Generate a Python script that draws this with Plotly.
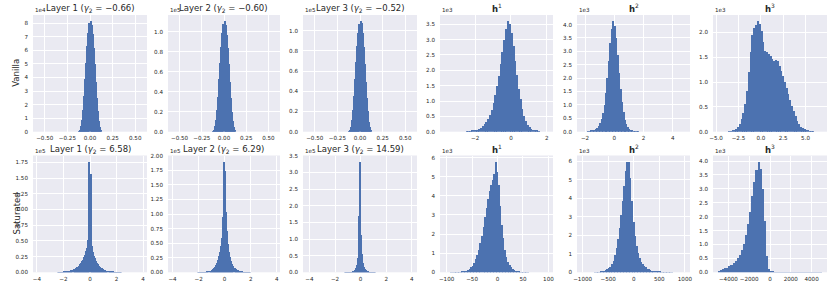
import plotly.graph_objects as go

W, H = 831, 287

# ---------------- data (bin start, bin width, counts in display units) ----------------
# Row 1: Vanilla
van_l1_start, van_l1_width = -0.126, 0.012
van_l1_counts = [0.05, 0.15, 0.4, 0.9, 1.6, 2.6, 3.9, 5.1, 6.3, 7.3, 8.0, 8.2, 7.9, 7.2, 6.2, 5.0,
                 3.7, 2.5, 1.5, 0.8, 0.35, 0.12]  # x1e4
van_l2_start, van_l2_width = -0.126, 0.012
van_l2_counts = [0.007, 0.02, 0.055, 0.12, 0.22, 0.35, 0.53, 0.69, 0.85, 0.99, 1.08, 1.11, 1.07, 0.97,
                 0.84, 0.68, 0.5, 0.34, 0.2, 0.11, 0.05, 0.016]  # x1e5
van_l3_start, van_l3_width = -0.126, 0.012
van_l3_counts = [0.006, 0.02, 0.05, 0.12, 0.21, 0.35, 0.52, 0.69, 0.85, 0.98, 1.07, 1.10, 1.08, 0.98,
                 0.84, 0.67, 0.49, 0.33, 0.2, 0.1, 0.045, 0.015]  # x1e5
van_h1_start, van_h1_width = -2.45, 0.1
van_h1_counts = [0.01, 0.015, 0.02, 0.03, 0.04, 0.05, 0.07, 0.09, 0.13, 0.18, 0.24, 0.32, 0.42, 0.55,
                 0.72, 0.93, 1.18, 1.48, 1.82, 2.2, 2.6, 3.0, 3.35, 3.62, 3.5, 3.2, 2.8, 2.3, 1.85,
                 1.4, 1.05, 0.75, 0.52, 0.35, 0.23, 0.15, 0.09, 0.06, 0.04, 0.025, 0.015]  # x1e3
van_h2_start, van_h2_width = -1.75, 0.1
van_h2_counts = [0.01, 0.02, 0.03, 0.05, 0.07, 0.1, 0.15, 0.22, 0.32, 0.48, 0.7, 1.0, 1.45, 2.0, 2.65,
                 3.3, 3.85, 4.15, 3.95, 3.5, 2.85, 2.2, 1.6, 1.1, 0.72, 0.45, 0.28, 0.17, 0.1, 0.06,
                 0.04, 0.025, 0.015, 0.01, 0.006]  # x1e3
van_h3_start, van_h3_width = -3.5, 0.2
van_h3_counts = [0.005, 0.01, 0.02, 0.04, 0.06, 0.1, 0.16, 0.25, 0.38, 0.56, 0.82, 1.2, 1.6, 1.95, 2.1,
                 2.15, 2.24, 2.18, 2.02, 1.8, 1.62, 1.6, 1.57, 1.52, 1.47, 1.42, 1.44, 1.42, 1.33,
                 1.22, 1.12, 1.0, 0.88, 0.76, 0.64, 0.52, 0.41, 0.31, 0.22, 0.15, 0.1, 0.07, 0.05,
                 0.03, 0.02, 0.012, 0.008, 0.005]  # x1e3

# Row 2: Saturated
sat_l1_start, sat_l1_width = -2.44, 0.08
sat_l1_counts = [0.005, 0.006, 0.007, 0.008, 0.01, 0.012, 0.014, 0.016, 0.019, 0.022, 0.026, 0.03,
                 0.035, 0.041, 0.048, 0.056, 0.065, 0.076, 0.088, 0.10, 0.115, 0.135, 0.155, 0.18,
                 0.21, 0.25, 0.29, 0.34, 0.40, 0.52, 1.77, 1.57, 0.42, 0.33, 0.27, 0.23, 0.19, 0.16,
                 0.135, 0.115, 0.097, 0.082, 0.07, 0.06, 0.05, 0.043, 0.036, 0.031, 0.026, 0.022,
                 0.019, 0.016, 0.014, 0.012, 0.01, 0.008, 0.007, 0.006, 0.005, 0.004, 0.003]  # x1e5
sat_l2_start, sat_l2_width = -2.04, 0.08
sat_l2_counts = [0.002, 0.003, 0.003, 0.004, 0.005, 0.006, 0.008, 0.01, 0.013, 0.017, 0.022, 0.028,
                 0.036, 0.046, 0.06, 0.078, 0.1, 0.13, 0.17, 0.22, 0.28, 0.36, 0.46, 0.6, 0.95, 1.91,
                 1.75, 1.05, 0.72, 0.5, 0.36, 0.27, 0.2, 0.15, 0.115, 0.088, 0.068, 0.052, 0.04,
                 0.031, 0.024, 0.018, 0.014, 0.011, 0.008, 0.006, 0.005, 0.004, 0.003, 0.002, 0.002]  # x1e5
sat_l3_start, sat_l3_width = -1.24, 0.08
sat_l3_counts = [0.002, 0.003, 0.004, 0.005, 0.007, 0.01, 0.014, 0.02, 0.03, 0.05, 0.08, 0.13, 0.22,
                 0.45, 1.7, 3.34, 1.15, 0.55, 0.3, 0.18, 0.11, 0.07, 0.045, 0.03, 0.02, 0.014, 0.01,
                 0.007, 0.005, 0.003, 0.002]  # x1e5
sat_h1_start, sat_h1_width = -90, 3
sat_h1_counts = [0.01, 0.012, 0.015, 0.02, 0.025, 0.03, 0.04, 0.05, 0.065, 0.085, 0.11, 0.15, 0.2,
                 0.28, 0.38, 0.52, 0.7, 0.92, 1.2, 1.55, 1.95, 2.4, 2.9, 3.4, 3.85, 4.3, 4.6, 4.85,
                 5.15, 5.82, 5.3, 4.6, 3.5, 2.5, 1.8, 1.2, 0.82, 0.58, 0.4, 0.28, 0.19, 0.13, 0.09,
                 0.065, 0.045, 0.032, 0.022, 0.015, 0.01, 0.007, 0.005]  # x1e3
sat_h2_start, sat_h2_width = -750, 30
sat_h2_counts = [0.015, 0.02, 0.025, 0.042, 0.055, 0.075, 0.1, 0.13, 0.18, 0.26, 0.34, 0.46, 0.65,
                 0.95, 1.35, 1.8, 2.4, 3.1, 3.9, 4.7, 5.5, 5.95, 6.0, 5.1, 3.9, 2.75, 2.0, 1.45, 1.05,
                 0.78, 0.6, 0.46, 0.36, 0.29, 0.23, 0.19, 0.15, 0.12, 0.1, 0.085, 0.07, 0.06, 0.05,
                 0.042, 0.035, 0.03, 0.025, 0.02, 0.017, 0.014, 0.012]  # x1e3
sat_h3_start, sat_h3_width = -4900, 200
sat_h3_counts = [0.08, 0.1, 0.13, 0.16, 0.19, 0.23, 0.28, 0.34, 0.42, 0.52, 0.65, 0.82, 1.05, 1.35,
                 1.75, 2.2, 2.75, 3.25, 3.7, 4.0, 3.75, 3.0, 1.85, 0.6, 0.12, 0.04, 0.03, 0.025,
                 0.022, 0.02, 0.018, 0.016, 0.015, 0.014, 0.013, 0.012, 0.011, 0.01, 0.01, 0.009,
                 0.008, 0.008, 0.007, 0.007, 0.006, 0.006, 0.005, 0.005, 0.004, 0.004]  # x1e3

# titles / labels
titles = ["Layer 1 (<i>γ</i><sub>2</sub> = −0.66)", "Layer 2 (<i>γ</i><sub>2</sub> = −0.60)",
          "Layer 3 (<i>γ</i><sub>2</sub> = −0.52)", "<b>h</b><sup>1</sup>", "<b>h</b><sup>2</sup>",
          "<b>h</b><sup>3</sup>",
          "Layer 1 (<i>γ</i><sub>2</sub> = 6.58)", "Layer 2 (<i>γ</i><sub>2</sub> = 6.29)",
          "Layer 3 (<i>γ</i><sub>2</sub> = 14.59)", "<b>h</b><sup>1</sup>", "<b>h</b><sup>2</sup>",
          "<b>h</b><sup>3</sup>"]
row_labels = ["Vanilla", "Saturated"]
offset_texts = ["1e4", "1e5", "1e5", "1e3", "1e3", "1e3", "1e5", "1e5", "1e5", "1e3", "1e3", "1e3"]

tick_layer_van = [-0.5, -0.25, 0.0, 0.25, 0.5]
tick_layer_van_text = ["−0.50", "−0.25", "0.00", "0.25", "0.50"]
tick_van_h1 = [-2, 0, 2]
tick_van_h1_text = ["−2", "0", "2"]
tick_van_h2 = [-2, 0, 2, 4]
tick_van_h2_text = ["−2", "0", "2", "4"]
tick_van_h3 = [-5.0, -2.5, 0.0, 2.5, 5.0]
tick_van_h3_text = ["−5.0", "−2.5", "0.0", "2.5", "5.0"]
tick_layer_sat = [-4, -2, 0, 2, 4]
tick_layer_sat_text = ["−4", "−2", "0", "2", "4"]
tick_sat_h1 = [-100, -50, 0, 50, 100]
tick_sat_h1_text = ["−100", "−50", "0", "50", "100"]
tick_sat_h2 = [-1000, -500, 0, 500, 1000]
tick_sat_h2_text = ["−1000", "−500", "0", "500", "1000"]
tick_sat_h3 = [-4000, -2000, 0, 2000, 4000]
tick_sat_h3_text = ["−4000", "−2000", "0", "2000", "4000"]

# ---------------- figure ----------------
panels = [
    (van_l1_start, van_l1_width, van_l1_counts, [-0.63, 0.63], tick_layer_van, tick_layer_van_text, 1, "d"),
    (van_l2_start, van_l2_width, van_l2_counts, [-0.63, 0.63], tick_layer_van, tick_layer_van_text, 0.2, ".1f"),
    (van_l3_start, van_l3_width, van_l3_counts, [-0.63, 0.63], tick_layer_van, tick_layer_van_text, 0.2, ".1f"),
    (van_h1_start, van_h1_width, van_h1_counts, [-3.96, 2.35], tick_van_h1, tick_van_h1_text, 0.5, ".1f"),
    (van_h2_start, van_h2_width, van_h2_counts, [-2.55, 5.18], tick_van_h2, tick_van_h2_text, 0.5, ".1f"),
    (van_h3_start, van_h3_width, van_h3_counts, [-5.35, 7.4], tick_van_h3, tick_van_h3_text, 0.5, ".1f"),
    (sat_l1_start, sat_l1_width, sat_l1_counts, [-4.3, 4.3], tick_layer_sat, tick_layer_sat_text, 0.25, ".2f"),
    (sat_l2_start, sat_l2_width, sat_l2_counts, [-4.35, 4.25], tick_layer_sat, tick_layer_sat_text, 0.25, ".2f"),
    (sat_l3_start, sat_l3_width, sat_l3_counts, [-4.5, 4.4], tick_layer_sat, tick_layer_sat_text, 0.5, ".1f"),
    (sat_h1_start, sat_h1_width, sat_h1_counts, [-113, 109], tick_sat_h1, tick_sat_h1_text, 1, "d"),
    (sat_h2_start, sat_h2_width, sat_h2_counts, [-1110, 1100], tick_sat_h2, tick_sat_h2_text, 1, "d"),
    (sat_h3_start, sat_h3_width, sat_h3_counts, [-5480, 5480], tick_sat_h3, tick_sat_h3_text, 0.5, ".1f"),
]

cols_px = [(33, 147), (168, 280), (303, 417), (440, 553), (577, 690), (713, 827)]
rows_px = [(15, 131.7), (155.5, 272.3)]

BG = "#EAEAF2"
BAR = "#4C72B0"
TXT = "#262626"
FONT = "DejaVu Sans"
TICK = 5.6

fig = go.Figure()
layout = dict(
    width=W, height=H,
    margin=dict(l=0, r=0, t=0, b=0, autoexpand=False),
    paper_bgcolor="white",
    plot_bgcolor=BG,
    showlegend=False,
    bargap=0,
    font=dict(family=FONT, color=TXT),
)
annotations = []

for k, (start, width, counts, xr, tv, tt, dtick, yfmt) in enumerate(panels):
    r, c = divmod(k, 6)
    x0, x1 = cols_px[c]
    y0, y1 = rows_px[r]
    xa = "x" if k == 0 else f"x{k+1}"
    ya = "y" if k == 0 else f"y{k+1}"
    centers = [start + i * width for i in range(len(counts))]
    fig.add_trace(go.Bar(x=centers, y=counts, width=width, xaxis=xa, yaxis=ya,
                         marker=dict(color=BAR, line=dict(width=0)), hoverinfo="skip"))
    ymax = max(counts) * 1.05
    layout[f"xaxis{'' if k == 0 else k+1}"] = dict(
        domain=[x0 / W, x1 / W], range=xr, anchor=ya, tickvals=tv, ticktext=tt,
        showgrid=True, gridcolor="white", gridwidth=1, zeroline=False, showline=False,
        ticks="", tickangle=0, automargin=False,
        tickfont=dict(size=TICK, color=TXT, family=FONT), ticklabelstandoff=2,
        fixedrange=True)
    layout[f"yaxis{'' if k == 0 else k+1}"] = dict(
        domain=[1 - y1 / H, 1 - y0 / H], range=[0, ymax], anchor=xa, dtick=dtick, tick0=0,
        tickformat=yfmt, showgrid=True, gridcolor="white", gridwidth=1, zeroline=False,
        showline=False, ticks="", automargin=False,
        tickfont=dict(size=TICK, color=TXT, family=FONT),
        ticklabelstandoff=4, fixedrange=True)
    # title
    annotations.append(dict(x=(x0 + x1) / 2 / W, y=1 - (y0 - 6.5) / H, xref="paper", yref="paper",
                            text=titles[k], showarrow=False, xanchor="center", yanchor="middle",
                            font=dict(size=8.5, color=TXT, family=FONT)))
    # offset text
    annotations.append(dict(x=x0 / W, y=1 - (y0 - 5.0) / H, xref="paper", yref="paper",
                            text=offset_texts[k], showarrow=False, xanchor="left", yanchor="middle",
                            font=dict(size=5.6, color=TXT, family=FONT)))

for r, lab in enumerate(row_labels):
    y0, y1 = rows_px[r]
    annotations.append(dict(x=16.5 / W, y=1 - (y0 + y1) / 2 / H, xref="paper", yref="paper",
                            text=lab, showarrow=False, textangle=-90, xanchor="center",
                            yanchor="middle", font=dict(size=8.5, color=TXT, family=FONT)))

layout["annotations"] = annotations
fig.update_layout(**layout)
fig.write_html("out.html", config={"displayModeBar": False},
               post_script="document.body.style.margin='0';document.body.style.padding='0';"
                           "document.body.style.overflow='hidden';")
